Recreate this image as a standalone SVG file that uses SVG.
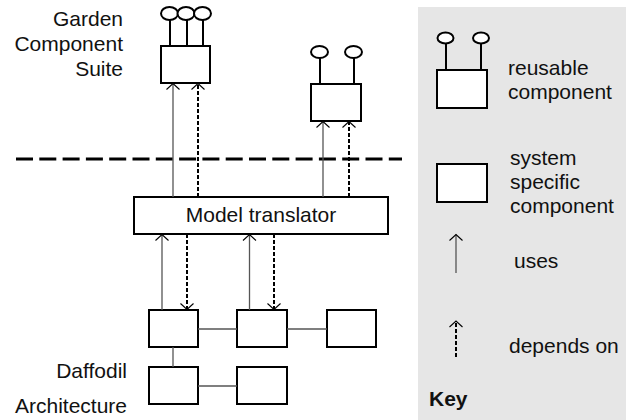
<svg xmlns="http://www.w3.org/2000/svg" width="626" height="420" viewBox="0 0 626 420">
  <style>
    text { font-family: "Liberation Sans", Arial, sans-serif; font-size: 21px; fill: #111; }
    .box { fill: #fff; stroke: #000; stroke-width: 2; }
    .stem { stroke: #000; stroke-width: 2; fill: none; }
    .port { fill: #fff; stroke: #000; stroke-width: 2; }
    .uses { stroke: #555; stroke-width: 1.3; fill: none; }
    .dep { stroke: #000; stroke-width: 2; stroke-dasharray: 4 2; fill: none; }
    .link { stroke: #555; stroke-width: 1.3; fill: none; }
    .sep { stroke: #000; stroke-width: 3; stroke-dasharray: 17 6.3; fill: none; }
  </style>
  <defs>
    <marker id="head" viewBox="-8 -8 10 16" markerWidth="10" markerHeight="16" refX="0" refY="0" orient="auto" markerUnits="userSpaceOnUse">
      <path d="M-6,-6.5 L0,0 L-6,6.5" fill="none" stroke="#000" stroke-width="1.1"/>
    </marker>
  </defs>

  <rect id="key-panel" x="418" y="7" width="208" height="413" fill="#e6e6e6"/>

  <!-- layer labels -->
  <g id="garden-label" text-anchor="end">
    <text x="123" y="26">Garden</text>
    <text x="123" y="51">Component</text>
    <text x="123" y="76">Suite</text>
  </g>
  <g id="daffodil-label" text-anchor="end">
    <text x="127" y="378">Daffodil</text>
    <text x="127" y="413">Architecture</text>
  </g>

  <!-- layer separator -->
  <line class="sep" x1="16" y1="159" x2="402" y2="159"/>

  <!-- reusable components -->
  <g id="garden-a">
    <path class="stem" d="M170,19 V46 M187,19 V46 M203,19 V46"/>
    <ellipse class="port" cx="169.5" cy="13.5" rx="8.5" ry="6.5"/>
    <ellipse class="port" cx="186" cy="13.5" rx="8.5" ry="6.5"/>
    <ellipse class="port" cx="202.5" cy="13.5" rx="8.5" ry="6.5"/>
    <rect class="box" x="161" y="46" width="49" height="37"/>
  </g>
  <g id="garden-b">
    <path class="stem" d="M320,58 V84 M354,58 V84"/>
    <ellipse class="port" cx="319.5" cy="52" rx="8.5" ry="6"/>
    <ellipse class="port" cx="353.5" cy="52" rx="8.5" ry="6"/>
    <rect class="box" x="311" y="84" width="50" height="37"/>
  </g>

  <!-- translator -->
  <g id="model-translator">
    <rect class="box" x="134" y="197" width="254" height="37"/>
    <text x="261" y="222" text-anchor="middle">Model translator</text>
  </g>

  <!-- system specific components -->
  <g id="daffodil-1"><rect class="box" x="149" y="310" width="49" height="37"/></g>
  <g id="daffodil-2"><rect class="box" x="237" y="310" width="50" height="37"/></g>
  <g id="daffodil-3"><rect class="box" x="327" y="310" width="49" height="37"/></g>
  <g id="daffodil-4"><rect class="box" x="149" y="367" width="49" height="37"/></g>
  <g id="daffodil-5"><rect class="box" x="237" y="367" width="50" height="37"/></g>

  <!-- connectors -->
  <g id="connectors">
    <line class="uses" x1="173" y1="197" x2="173" y2="83.5" marker-end="url(#head)"/>
    <line class="dep" x1="198" y1="197" x2="198" y2="83.5" marker-end="url(#head)"/>
    <line class="uses" x1="323" y1="197" x2="323" y2="121.5" marker-end="url(#head)"/>
    <line class="dep" x1="349" y1="197" x2="349" y2="121.5" marker-end="url(#head)"/>

    <line class="uses" x1="162" y1="310" x2="162" y2="234.5" marker-end="url(#head)"/>
    <line class="dep" x1="187" y1="234" x2="187" y2="309.5" marker-end="url(#head)"/>
    <line class="uses" x1="249.5" y1="310" x2="249.5" y2="234.5" marker-end="url(#head)"/>
    <line class="dep" x1="274" y1="234" x2="274" y2="309.5" marker-end="url(#head)"/>

    <line class="link" x1="198" y1="329" x2="237" y2="329"/>
    <line class="link" x1="287" y1="329" x2="327" y2="329"/>
    <line class="link" x1="173" y1="347" x2="173" y2="367"/>
    <line class="link" x1="198" y1="386" x2="237" y2="386"/>
  </g>

  <!-- key -->
  <g id="key-reusable">
    <path class="stem" d="M446,43 V70 M481,43 V70"/>
    <ellipse class="port" cx="445.5" cy="38" rx="8" ry="5.5"/>
    <ellipse class="port" cx="481" cy="38" rx="8" ry="5.5"/>
    <rect class="box" x="437" y="70" width="50" height="38"/>
    <text x="508" y="75">reusable</text>
    <text x="508" y="99">component</text>
  </g>
  <g id="key-specific">
    <rect class="box" x="437" y="164" width="50" height="38"/>
    <text x="510" y="165">system</text>
    <text x="510" y="189">specific</text>
    <text x="510" y="213">component</text>
  </g>
  <g id="key-uses">
    <line class="uses" x1="456" y1="273" x2="456" y2="234.5" marker-end="url(#head)"/>
    <text x="514" y="268">uses</text>
  </g>
  <g id="key-depends">
    <line class="dep" x1="456" y1="357" x2="456" y2="321" marker-end="url(#head)"/>
    <text x="509" y="353">depends on</text>
  </g>
  <text x="429" y="406" font-weight="bold">Key</text>
</svg>
